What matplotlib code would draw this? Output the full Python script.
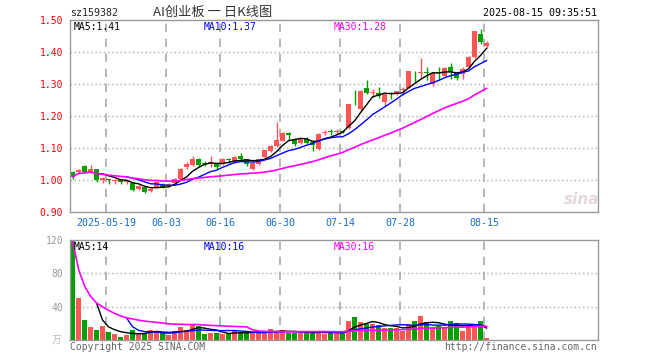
import numpy as np
import pandas as pd
import matplotlib
matplotlib.use("Agg")
import matplotlib.pyplot as plt

# daily candles, 2025-05-09 .. 2025-08-15
opens = [1.025, 1.025, 1.044, 1.025, 1.034, 1.000, 1.003, 0.997, 1.000, 0.993,
         0.990, 0.971, 0.977, 0.966, 0.977, 0.987, 0.983, 0.990, 1.002, 1.042,
         1.047, 1.066, 1.053, 1.050, 1.054, 1.050, 1.064, 1.056, 1.075, 1.065,
         1.034, 1.050, 1.071, 1.092, 1.107, 1.123, 1.148, 1.127, 1.117, 1.127,
         1.120, 1.096, 1.148, 1.152, 1.149, 1.153, 1.162, 1.238, 1.221, 1.287,
         1.272, 1.273, 1.245, 1.272, 1.268, 1.282, 1.288, 1.335, 1.333, 1.336,
         1.299, 1.337, 1.325, 1.354, 1.335, 1.331, 1.354, 1.383, 1.456, 1.419]
highs = [1.028, 1.033, 1.048, 1.048, 1.035, 1.010, 1.004, 1.003, 1.003, 0.998,
         0.995, 0.984, 0.979, 0.974, 0.998, 0.991, 0.990, 1.005, 1.036, 1.055,
         1.075, 1.068, 1.058, 1.075, 1.056, 1.069, 1.070, 1.076, 1.083, 1.067,
         1.056, 1.067, 1.094, 1.110, 1.182, 1.150, 1.149, 1.130, 1.130, 1.133,
         1.122, 1.148, 1.156, 1.159, 1.159, 1.156, 1.239, 1.281, 1.281, 1.312,
         1.283, 1.292, 1.271, 1.276, 1.279, 1.290, 1.342, 1.341, 1.382, 1.354,
         1.336, 1.352, 1.352, 1.365, 1.338, 1.352, 1.387, 1.466, 1.472, 1.433]
lows = [1.004, 1.023, 1.024, 1.021, 0.995, 0.992, 0.986, 0.989, 0.989, 0.987,
        0.967, 0.969, 0.960, 0.964, 0.974, 0.974, 0.977, 0.988, 1.000, 1.033,
        1.044, 1.042, 1.045, 1.042, 1.033, 1.046, 1.053, 1.054, 1.063, 1.043,
        1.031, 1.046, 1.069, 1.089, 1.104, 1.121, 1.126, 1.106, 1.114, 1.113,
        1.092, 1.094, 1.142, 1.141, 1.141, 1.146, 1.160, 1.233, 1.217, 1.270,
        1.260, 1.255, 1.232, 1.253, 1.266, 1.266, 1.286, 1.307, 1.317, 1.312,
        1.295, 1.312, 1.322, 1.315, 1.312, 1.315, 1.352, 1.380, 1.425, 1.413]
closes = [1.010, 1.031, 1.025, 1.034, 1.000, 1.007, 1.000, 1.000, 0.995, 0.995,
          0.969, 0.981, 0.963, 0.972, 0.995, 0.977, 0.986, 1.002, 1.033, 1.049,
          1.066, 1.046, 1.050, 1.057, 1.040, 1.065, 1.062, 1.073, 1.066, 1.049,
          1.052, 1.065, 1.094, 1.107, 1.125, 1.148, 1.140, 1.111, 1.127, 1.117,
          1.109, 1.144, 1.150, 1.149, 1.152, 1.150, 1.236, 1.236, 1.279, 1.273,
          1.275, 1.263, 1.268, 1.270, 1.277, 1.285, 1.340, 1.333, 1.336, 1.334,
          1.333, 1.335, 1.349, 1.339, 1.318, 1.346, 1.385, 1.466, 1.431, 1.429]
# volume in 万
volumes = [119, 51, 24, 16, 12, 17, 10, 7, 4, 6,
           12, 8.4, 8.4, 12, 10.8, 8, 6.2, 10.6, 15.6, 12.5,
           19.2, 16.8, 7.4, 8.4, 8.4, 7.4, 7.2, 10.8, 9.6, 8.4,
           9.6, 10.8, 8.4, 13.4, 9.6, 11.6, 8.8, 8.8, 8.8, 8.8,
           8.8, 10.8, 7.6, 8.8, 8.8, 8.8, 22.8, 27.6, 21.6, 18.8,
           19.6, 17.6, 14.8, 14.8, 14.8, 10.8, 19.2, 22.8, 28.8, 21.6,
           14, 16.5, 14.5, 23, 20.5, 11, 17.5, 18.5, 22.5, 2]

date_pos = [6, 16, 25, 35, 45, 55, 69]
date_labels = ['2025-05-19', '06-03', '06-16', '06-30', '07-14', '07-28', '08-15']
price_ticks = [0.90, 1.00, 1.10, 1.20, 1.30, 1.40, 1.50]
vol_ticks = [40, 80, 120]

RED = '#ff5555'
GREEN = '#00a000'
GRID = '#aaaaaa'
MONO = 'DejaVu Sans Mono'

o = np.array(opens)
h = np.array(highs)
l = np.array(lows)
c = np.array(closes)
v = np.array(volumes)
x = np.arange(len(c))
up = c >= o
colors = np.where(up, RED, GREEN)

cs = pd.Series(c)
vs = pd.Series(v)
ma5 = cs.rolling(5).mean()
ma10 = cs.rolling(10).mean()
ma30 = cs.rolling(30, min_periods=1).mean()
vma5 = vs.rolling(5).mean()
vma10 = vs.rolling(10).mean()
vma30 = vs.rolling(30, min_periods=1).mean()

W, H = 660, 360
fig = plt.figure(figsize=(6.6, 3.6), dpi=100)


def box(left, top, right, bottom):
    return [left / W, 1 - bottom / H, (right - left) / W, (bottom - top) / H]


def ftext(px, py, s, **kw):
    fig.text(px / W, 1 - py / H, s, **kw)


ax = fig.add_axes(box(70, 20, 598, 212))
axv = fig.add_axes(box(70, 240, 598, 340))
xlim = (-0.42, 87.58)

# candles
ax.vlines(x, l, h, colors=colors, linewidth=1)
body = np.maximum(np.abs(c - o), 0.0025)
ax.bar(x, body, bottom=np.minimum(o, c), width=0.8, color=colors, linewidth=0)
ax.plot(x, ma5, color='black', lw=1)
ax.plot(x, ma10, color='#0000ff', lw=1)
ax.plot(x, ma30, color='#ff00ff', lw=1.2)

ax.set_xlim(*xlim)
ax.set_ylim(0.90, 1.50)
ax.set_yticks(price_ticks)
ax.set_yticklabels(['%.2f' % t for t in price_ticks], color='red',
                   fontsize=7, family=MONO)
ax.set_xticks([p - 0.4 for p in date_pos])
ax.set_xticklabels(date_labels, color='#1a6fd0', fontsize=7.2, family=MONO)
ax.tick_params(length=0, pad=5)
ax.tick_params(axis='x', pad=4)
for t in price_ticks[1:-1]:
    ax.axhline(t, color=GRID, lw=1, ls=(0, (1, 2)), zorder=0)

# volume
axv.bar(x, v, width=0.82, color=colors, linewidth=0)
axv.plot(x, vma5, color='black', lw=1)
axv.plot(x, vma10, color='#0000ff', lw=1)
axv.plot(x, vma30, color='#ff00ff', lw=1.2)
axv.set_xlim(*xlim)
axv.set_ylim(0, 120)
axv.set_yticks(vol_ticks)
axv.set_yticklabels([str(t) for t in vol_ticks], color='#999999',
                    fontsize=7, family=MONO)
axv.set_xticks([])
axv.tick_params(length=0, pad=5)
for t in vol_ticks[:-1]:
    axv.axhline(t, color=GRID, lw=1, ls=(0, (1, 2)), zorder=0)

for a in (ax, axv):
    for p in date_pos:
        a.axvline(p - 0.4, color=GRID, lw=1.2, ls=(0, (5, 4)), zorder=0)
    for s in a.spines.values():
        s.set_color('#999999')
        s.set_linewidth(1)

# header and legend texts
ftext(70, 13, 'sz159382', fontsize=7.2, family=MONO, va='center', color='#222222')
ftext(213, 12, 'AI创业板 一 日K线图', fontsize=9.5,
      family=['Noto Sans CJK SC', 'DejaVu Sans'], va='center', ha='center', color='#333333')
ftext(597, 13, '2025-08-15 09:35:51', fontsize=7.2, family=MONO, va='center',
      ha='right', color='black')

ftext(74, 27, 'MA5:1.41', fontsize=7, family=MONO, va='center', color='black')
ftext(204, 27, 'MA10:1.37', fontsize=7, family=MONO, va='center', color='#0000ff')
ftext(334, 27, 'MA30:1.28', fontsize=7, family=MONO, va='center', color='#ff00ff')
ftext(74, 247, 'MA5:14', fontsize=7, family=MONO, va='center', color='black')
ftext(204, 247, 'MA10:16', fontsize=7, family=MONO, va='center', color='#0000ff')
ftext(334, 247, 'MA30:16', fontsize=7, family=MONO, va='center', color='#ff00ff')

ftext(57, 340, '万', fontsize=7, family=['Noto Sans CJK SC', 'DejaVu Sans'],
      va='center', ha='center', color='#bbbbbb')
ftext(70, 347, 'Copyright 2025 SINA.COM', fontsize=7, family=MONO, va='center',
      color='#666666')
ftext(597, 347, 'http://finance.sina.com.cn', fontsize=7, family=MONO, va='center',
      ha='right', color='#666666')
ftext(582, 200, 'sina', fontsize=11, style='italic', weight='bold', va='center',
      ha='center', color='#e4d8d8')

fig.savefig('out.png', dpi=100)
